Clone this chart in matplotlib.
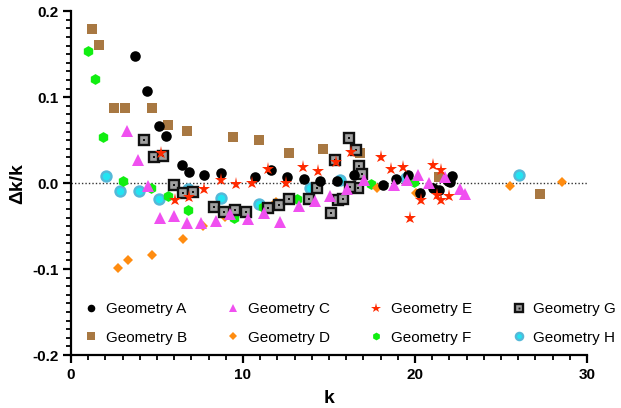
import matplotlib
matplotlib.use("Agg")
import matplotlib.pyplot as plt
from matplotlib.legend_handler import HandlerTuple

plt.rcParams['font.family'] = ['Liberation Sans', 'DejaVu Sans']

# Geometry A
kA = [3.72, 4.40, 5.13, 5.54, 6.44, 6.88, 7.76, 8.70, 10.67, 11.63, 12.58, 13.53,
      14.49, 15.48, 16.45, 18.14, 18.90, 19.59, 20.29, 21.02, 21.40, 21.94, 22.13, 22.03]
dA = [0.148, 0.107, 0.066, 0.055, 0.021, 0.013, 0.009, 0.012, 0.0066, 0.015, 0.007, 0.005,
      0.002, 0.003, 0.010, -0.002, 0.005, 0.009, -0.011, -0.006, -0.008, 0.003, 0.008, 0.0015]

# Geometry B
kB = [1.24, 1.65, 2.52, 3.16, 4.73, 5.66, 6.76, 9.44, 10.95, 12.69, 14.67, 16.80, 21.41, 27.29]
dB = [0.179, 0.161, 0.088, 0.088, 0.088, 0.068, 0.061, 0.054, 0.050, 0.035, 0.040, 0.035, 0.007, -0.013]

# Geometry C
kC = [3.27, 3.88, 4.46, 5.17, 5.96, 6.76, 7.56, 8.45, 9.27, 10.31, 11.22, 12.16, 13.23,
      14.19, 15.04, 16.03, 17.02, 18.78, 19.52, 20.19, 20.81, 21.74, 22.62, 22.91]
dC = [0.061, 0.027, -0.0035, -0.041, -0.038, -0.046, -0.046, -0.044, -0.036, -0.042, -0.035,
      -0.045, -0.027, -0.021, -0.015, -0.0066, 0.0035, -0.0026, 0.0035, 0.0093, -0.0003,
      0.0066, -0.0073, -0.0128]

# Geometry D
kD = [2.72, 3.30, 4.71, 6.53, 7.70, 8.97, 11.92, 17.77, 20.04, 25.52, 28.53]
dD = [-0.099, -0.090, -0.084, -0.065, -0.050, -0.039, -0.022, -0.006, -0.012, -0.0035, 0.0015]

# Geometry E
kE = [5.25, 6.05, 6.87, 7.73, 8.70, 9.59, 10.55, 11.44, 12.50, 13.47, 14.38, 15.42, 16.26,
      18.01, 18.63, 19.32, 19.71, 20.37, 21.06, 21.53, 21.25, 21.52, 21.99]
dE = [0.035, -0.020, -0.016, -0.007, 0.0035, -0.0015, 0.0006, 0.017, 0.0003, 0.019, 0.014,
      0.025, 0.036, 0.030, 0.017, 0.019, -0.040, -0.020, 0.021, 0.015, -0.014, -0.020, -0.0145]

# Geometry F
kF = [1.01, 1.40, 1.87, 3.01, 4.67, 5.66, 6.81, 9.49, 11.18, 13.12, 17.43, 19.94]
dF = [0.154, 0.121, 0.054, 0.003, -0.0055, -0.015, -0.031, -0.040, -0.028, -0.019, -0.0014, 0.001]

# Geometry G
kG = [4.26, 4.80, 5.34, 5.99, 6.53, 7.11, 8.31, 8.90, 9.55, 10.17, 11.45, 12.09, 12.69,
      13.81, 14.33, 15.12, 15.51, 15.83, 16.18, 16.57, 15.35, 16.77, 16.91, 16.70, 16.22]
dG = [0.050, 0.030, 0.032, -0.0023, -0.012, -0.010, -0.028, -0.034, -0.031, -0.033, -0.029,
      -0.026, -0.019, -0.018, -0.006, -0.035, -0.020, -0.018, 0.053, 0.039, 0.027, 0.020,
      0.011, -0.0056, -0.0043]

# Geometry H
kH = [2.02, 2.85, 3.94, 5.13, 6.78, 8.72, 10.93, 13.88, 15.66, 19.46, 26.05]
dH = [0.008, -0.009, -0.009, -0.019, -0.007, -0.017, -0.024, -0.0056, 0.004, 0.006, 0.009]

fig = plt.figure(figsize=(6.21, 4.08), dpi=100)
ax = fig.add_axes([0.1143, 0.1299, 0.8310, 0.8424])

ax.axhline(0, color='#333333', lw=1.0, ls=(0, (1, 1.5)), zorder=1)

hH, = ax.plot(kH, dH, 'o', ms=7.2, mfc='#22e4f2', mec='#55b8d8', mew=1.7, zorder=2)
hF, = ax.plot(kF, dF, 'h', ms=7.8, mfc='#11ee11', mec='#11ee11', mew=0, zorder=3)
hD, = ax.plot(kD, dD, 'D', ms=5.2, mfc='#ff8c10', mec='#ff8c10', mew=0, zorder=4)
hB, = ax.plot(kB, dB, 's', ms=7.3, mfc='#a87842', mec='#a87842', mew=0, zorder=5)
hG, = ax.plot(kG, dG, 's', ms=7.2, mfc='#a0a0a0', mec='#111111', mew=1.7, zorder=6)
hGd, = ax.plot(kG, dG, 's', ms=1.9, mfc='#111111', mec='#111111', mew=0, zorder=6.1)
hA, = ax.plot(kA, dA, 'o', ms=7.6, mfc='black', mec='black', mew=0, zorder=7)
hC, = ax.plot(kC, dC, '^', ms=8.2, mfc='#f050f0', mec='#f050f0', mew=0, zorder=8)
hE, = ax.plot(kE, dE, '*', ms=9.5, mfc='#ff2a00', mec='#ff2a00', mew=0, zorder=9)

ax.set_xlim(0, 30)
ax.set_ylim(-0.2, 0.2)
ax.set_xticks([0, 10, 20, 30])
ax.set_xticks(range(0, 31), minor=True)
ax.set_yticks([-0.2, -0.1, 0.0, 0.1, 0.2])
ax.set_yticks([i / 100 for i in range(-20, 21)], minor=True)
ax.set_yticklabels(['-0.2', '-0.1', '0.0', '0.1', '0.2'])

for s in ['top', 'right']:
    ax.spines[s].set_visible(False)
for s in ['left', 'bottom']:
    ax.spines[s].set_linewidth(1.6)

ax.tick_params(which='major', length=6, width=1.6, direction='out', labelsize=11, pad=3)
ax.tick_params(which='minor', length=3.5, width=1.3, direction='out')
for lab in ax.get_xticklabels() + ax.get_yticklabels():
    lab.set_fontweight('bold')

ax.set_xlabel('k', fontsize=14, fontweight='bold', labelpad=6)
ax.set_ylabel('Δk/k', fontsize=14, fontweight='bold', labelpad=4)

handles = [hA, hB, hC, hD, hE, hF, (hG, hGd), hH]
labels = ['Geometry A', 'Geometry B', 'Geometry C', 'Geometry D',
          'Geometry E', 'Geometry F', 'Geometry G', 'Geometry H']
fig.legend(handles, labels, ncol=4, loc='upper left', bbox_to_anchor=(0.122, 0.278),
           frameon=False, fontsize=11, markerscale=0.72, handlelength=1.0,
           handletextpad=0.45, columnspacing=2.55, labelspacing=0.95, borderpad=0,
           handler_map={tuple: HandlerTuple(ndivide=1)})

fig.savefig('out.png', dpi=100)
